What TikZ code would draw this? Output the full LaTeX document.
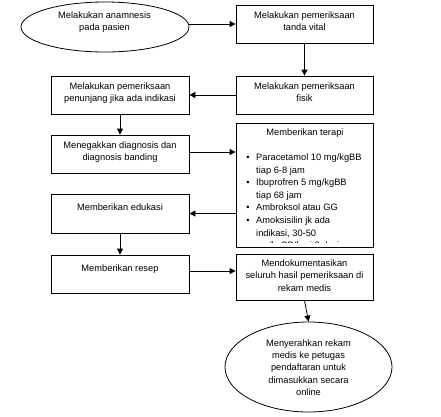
\documentclass[tikz,border=0pt]{standalone}
\usepackage{fontspec}
\setmainfont{Liberation Sans}
\usetikzlibrary{shapes.geometric,arrows.meta}
\begin{document}
\begin{tikzpicture}[x=1pt,y=-1pt,
  box/.style={draw=black,line width=0.8pt,rectangle,inner sep=0pt},
  oval/.style={draw=black,line width=0.8pt,ellipse,inner sep=0pt},
  txt/.style={anchor=north,inner sep=0pt,align=center,font=\fontsize{9.3}{12.3}\selectfont},
  arr/.style={line width=0.8pt,-{Triangle[length=6pt,width=6pt]}}]
\useasboundingbox (0,0) rectangle (441,416);
% shapes
\node[oval,minimum width=168,minimum height=50] (e1) at (105,27) {};
\node[box,minimum width=137,minimum height=38] (b1) at (304.5,24) {};
\node[box,minimum width=137,minimum height=38] (b2) at (304.5,95) {};
\node[box,minimum width=138,minimum height=38] (b3) at (120,95) {};
\node[box,minimum width=138,minimum height=38] (b4) at (120,154) {};
\node[box,minimum width=137,minimum height=124] (t) at (304.5,185) {};
\node[box,minimum width=138,minimum height=39] (b5) at (120,213.5) {};
\node[box,minimum width=138,minimum height=38] (b6) at (120,274) {};
\node[box,minimum width=137,minimum height=46] (b7) at (304.5,277) {};
\node[oval,minimum width=167,minimum height=90] (e2) at (308.5,367) {};
% texts
\node[txt] (te1) at (104.5,11.3) {Melakukan anamnesis\\pada pasien};
\node[txt] (tb1) at (304.5,11.3) {Melakukan pemeriksaan\\tanda vital};
\node[txt] (tb2) at (304.5,82.6) {Melakukan pemeriksaan\\fisik};
\node[txt] (tb3) at (120,82.6) {Melakukan pemeriksaan\\penunjang jika ada indikasi};
\node[txt] (tb4) at (120,141.3) {Menegakkan diagnosis dan\\diagnosis banding};
\node[txt] (tt) at (305,128.6) {Memberikan terapi};
\node[txt] (tb5) at (120,203.3) {Memberikan edukasi};
\node[txt] (tb6) at (120,264.6) {Memberikan resep};
\node[txt] (tb7) at (304.5,259.6) {Mendokumentasikan\\seluruh hasil pemeriksaan di\\rekam medis};
\node[txt] (te2) at (308.5,339.3) {Menyerahkan rekam\\medis ke petugas\\pendaftaran untuk\\dimasukkan secara\\online};
\begin{scope}
\clip (237,124) rectangle (372,242);
\node[txt,anchor=north west,align=left,font=\fontsize{9.3}{12.6}\selectfont] (tl) at (256,153.6)
 {\llap{\textbullet\hspace{6.5pt}}Paracetamol 10 mg/kgBB\\
  tiap 6-8 jam\\
  \llap{\textbullet\hspace{6.5pt}}Ibuprofren 5 mg/kgBB\\
  tiap 68 jam\\
  \llap{\textbullet\hspace{6.5pt}}Ambroksol atau GG\\
  \llap{\textbullet\hspace{6.5pt}}Amoksisilin jk ada\\
  indikasi, 30-50\\
  mg/kgBB/hari 3 dosis};
\end{scope}
% connectors
\draw[arr] (e1.east |- b1.west) -- (b1.west);
\draw[arr] (b1.south) -- (b2.north);
\draw[arr] (b2.west) -- (b3.east);
\draw[arr] (b3.south) -- (b4.north);
\draw[arr] ([yshift=2pt]b4.east) -- ([yshift=2pt]b4.east -| t.west);
\draw[arr] (t.west |- b5.east) -- (b5.east);
\draw[arr] (b5.south) -- (b6.north);
\draw[arr] ([yshift=3pt]b6.east) -- ([yshift=3pt]b6.east -| b7.west);
\draw[arr] (b7.south) -- (e2.north);
\end{tikzpicture}
\end{document}
